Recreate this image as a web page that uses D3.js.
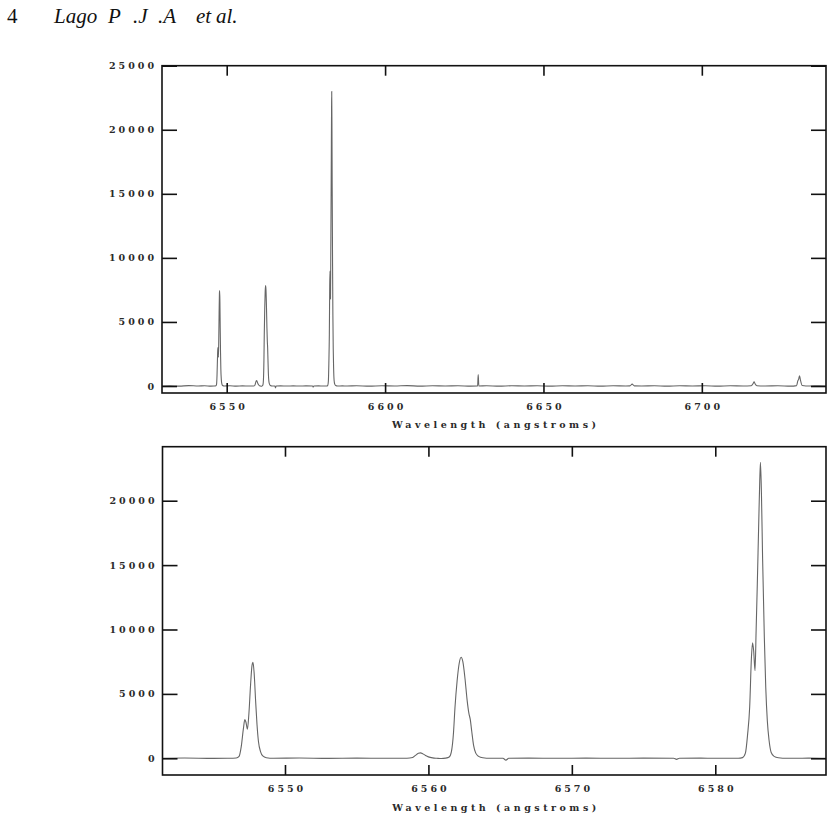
<!DOCTYPE html>
<html>
<head>
<meta charset="utf-8">
<script src="https://cdn.jsdelivr.net/npm/d3@7"></script>
<style>
  html, body { margin: 0; padding: 0; background: #fff; }
  svg { display: block; }
</style>
</head>
<body>
<svg id="chart" width="836" height="821"></svg>
<script>
// ---------------- data ----------------
const pageNumber = "4";
const runningHeadWords = ["Lago", "P", ".J", ".A", "et", "al."];
const xTitle = "Wavelength (angstroms)";

const topXTicks = [6550, 6600, 6650, 6700];
const topYTicks = [0, 5000, 10000, 15000, 20000, 25000];
const bottomXTicks = [6550, 6560, 6570, 6580];
const bottomYTicks = [0, 5000, 10000, 15000, 20000];

// [wavelength (Å), flux]
const continuumBlue = [
  [6529.6, 0], [6532, 20], [6535, -10], [6538, 30], [6541, 0], [6543, 20], [6545, -10], [6546.0, 0]
];
const lineN6548 = [
  [6546.6, 20], [6546.8, 150], [6546.95, 900], [6547.1, 2300], [6547.2, 3000], [6547.28, 2800],
  [6547.38, 2250], [6547.48, 3400], [6547.6, 5700], [6547.7, 7200], [6547.77, 7450], [6547.85, 6600],
  [6547.95, 4500], [6548.05, 2600], [6548.15, 1300], [6548.3, 500], [6548.45, 180], [6548.7, 40], [6549.2, 0]
];
const continuumMid1 = [[6551, 20], [6553, -10], [6555, 10], [6557, 0], [6558.5, 0]];
const bumpHalphaBlue = [
  [6558.9, 60], [6559.1, 230], [6559.3, 390], [6559.45, 420], [6559.6, 360], [6559.8, 220],
  [6560.0, 110], [6560.3, 30], [6560.6, 0], [6560.9, -20], [6561.2, 10]
];
const lineHalpha = [
  [6561.45, 100], [6561.6, 500], [6561.75, 2000], [6561.85, 3900], [6562.0, 6000], [6562.15, 7400],
  [6562.28, 7840], [6562.4, 7500], [6562.55, 6200], [6562.7, 4500], [6562.82, 3500], [6562.92, 3000],
  [6563.02, 2100], [6563.15, 1000], [6563.3, 400], [6563.5, 150], [6563.8, 40], [6564.3, 0]
];
const continuumMid2 = [
  [6565.2, 0], [6565.4, -150], [6565.6, 0], [6567, 10], [6569, 0], [6571, 10], [6573, 0], [6575, 10],
  [6577.1, 0], [6577.3, -80], [6577.5, 0], [6579, 10], [6580.5, 0], [6581.6, 0]
];
const lineN6583 = [
  [6581.9, 50], [6582.1, 400], [6582.25, 1800], [6582.4, 4000], [6582.52, 7800], [6582.6, 8975],
  [6582.68, 8300], [6582.77, 6800], [6582.85, 10000], [6582.93, 13500], [6583.02, 17800], [6583.1, 21500],
  [6583.15, 22980], [6583.22, 20500], [6583.3, 15500], [6583.42, 9400], [6583.52, 5500], [6583.63, 2900],
  [6583.75, 1400], [6583.9, 450], [6584.1, 150], [6584.4, 40], [6585.0, 0]
];
const continuumRed = [
  [6586.5, 10], [6588, 0], [6591, 20], [6595, -10], [6599, 20], [6603, 0], [6607, 30], [6611, -10],
  [6615, 20], [6619, 0], [6623, 20], [6627, -10], [6629.2, 0], [6629.4, 900], [6629.6, 0],
  [6632, 20], [6636, -10], [6640, 20], [6644, 0], [6648, 20], [6652, -10], [6656, 20], [6660, 0],
  [6664, 20], [6668, -10], [6672, 20], [6676, 0], [6677.3, 10], [6678.0, 150], [6678.7, 10],
  [6681, 0], [6685, 20], [6689, -10], [6693, 20], [6697, 0], [6701, 20], [6705, -10], [6709, 20],
  [6713, 0], [6715.6, 20], [6716.2, 200], [6716.5, 330], [6716.8, 180], [6717.4, 20],
  [6720, 0], [6724, 20], [6728, -10], [6729.9, 30], [6730.3, 400], [6730.6, 560], [6730.85, 800],
  [6731.1, 500], [6731.7, 40], [6734, 0], [6737, 20], [6739.2, 0]
];

const spectrum = [].concat(continuumBlue, lineN6548, continuumMid1, bumpHalphaBlue, lineHalpha,
                           continuumMid2, lineN6583, continuumRed);

// ---------------- drawing ----------------
const svg = d3.select("#chart");
const labelFont = "'DejaVu Serif', serif";

// running head
svg.append("text").attr("x", 7).attr("y", 23)
  .attr("font-family", "'Liberation Serif', serif").attr("font-size", 21).attr("fill", "#111")
  .text(pageNumber);
const headX = [54, 108, 133, 158, 196, 216];
svg.append("g").selectAll("text").data(runningHeadWords).join("text")
  .attr("x", (d, i) => headX[i]).attr("y", 23)
  .attr("font-family", "'Liberation Serif', serif").attr("font-style", "italic")
  .attr("font-size", 21).attr("fill", "#111")
  .text(d => d);

function panel(cfg) {
  const x = d3.scaleLinear().domain(cfg.xDomain).range([cfg.left, cfg.right]);
  const y = d3.scaleLinear().domain(cfg.yDomain).range([cfg.bottom, cfg.top]);
  const g = svg.append("g");
  const clipId = "clip" + cfg.id;
  svg.append("defs").append("clipPath").attr("id", clipId)
    .append("rect").attr("x", cfg.left).attr("y", cfg.top)
    .attr("width", cfg.right - cfg.left).attr("height", cfg.bottom - cfg.top);

  const line = d3.line().x(d => x(d[0])).y(d => y(d[1])).curve(d3.curveMonotoneX);
  g.append("path").datum(spectrum.filter(d => d[0] >= cfg.xDomain[0] - 2 && d[0] <= cfg.xDomain[1] + 2))
    .attr("clip-path", `url(#${clipId})`)
    .attr("d", line).attr("fill", "none").attr("stroke", "#666").attr("stroke-width", 1.1);

  const styleAxis = sel => {
    sel.select(".domain").remove();
    sel.selectAll(".tick line").attr("stroke", "#111").attr("stroke-width", 1.6);
    sel.selectAll(".tick text").attr("font-family", labelFont).attr("font-weight", "bold")
      .attr("font-size", 9.5).attr("fill", "#2a2a2a").attr("letter-spacing", 3);
  };

  // left axis with labels
  g.append("g").attr("transform", `translate(${cfg.left},0)`)
    .call(d3.axisLeft(y).tickValues(cfg.yTicks).tickSize(-15).tickSizeOuter(0).tickPadding(8).tickFormat(d3.format("d")))
    .call(styleAxis)
    .call(s => s.selectAll(".tick text").attr("dx", 3));
  // right axis ticks
  g.append("g").attr("transform", `translate(${cfg.right},0)`)
    .call(d3.axisRight(y).tickValues(cfg.yTicks).tickSize(-15).tickSizeOuter(0).tickFormat(""))
    .call(styleAxis);
  // bottom axis with labels
  g.append("g").attr("transform", `translate(0,${cfg.bottom})`)
    .call(d3.axisBottom(x).tickValues(cfg.xTicks).tickSize(-10).tickSizeOuter(0).tickPadding(10).tickFormat(d3.format("d")))
    .call(styleAxis)
    .call(s => s.selectAll(".tick text").attr("dx", 1.5));
  // top axis ticks
  g.append("g").attr("transform", `translate(0,${cfg.top})`)
    .call(d3.axisTop(x).tickValues(cfg.xTicks).tickSize(-10).tickSizeOuter(0).tickFormat(""))
    .call(styleAxis);

  // frame
  g.append("rect").attr("x", cfg.left).attr("y", cfg.top)
    .attr("width", cfg.right - cfg.left).attr("height", cfg.bottom - cfg.top)
    .attr("fill", "none").attr("stroke", "#111").attr("stroke-width", 1.6);

  // axis title
  g.append("text").attr("x", (cfg.left + cfg.right) / 2).attr("y", cfg.titleY)
    .attr("text-anchor", "middle").attr("font-family", labelFont).attr("font-weight", "bold")
    .attr("font-size", 9.5).attr("fill", "#2a2a2a")
    .attr("textLength", 204).attr("lengthAdjust", "spacing")
    .text(xTitle);
}

panel({
  id: "top", left: 162, right: 826, top: 65.7, bottom: 393,
  xDomain: [6529.57, 6739.2], yDomain: [-546, 25000],
  xTicks: topXTicks, yTicks: topYTicks, titleY: 428
});
panel({
  id: "bottom", left: 162.5, right: 826, top: 446.7, bottom: 775,
  xDomain: [6541.46, 6587.72], yDomain: [-1297, 24193],
  xTicks: bottomXTicks, yTicks: bottomYTicks, titleY: 811
});
</script>
</body>
</html>
